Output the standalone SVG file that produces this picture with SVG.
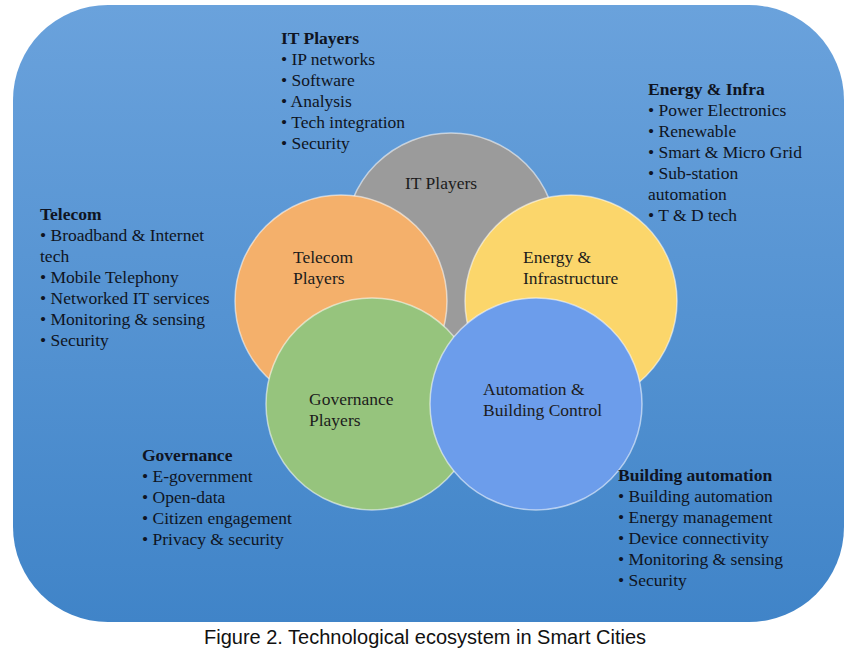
<svg xmlns="http://www.w3.org/2000/svg" width="854" height="669" viewBox="0 0 854 669">
  <defs>
    <linearGradient id="bg" x1="0" y1="0" x2="0" y2="1">
      <stop offset="0" stop-color="#6aa2dc"/>
      <stop offset="1" stop-color="#4084c8"/>
    </linearGradient>
    <style>
      .circ { stroke: #ffffff; stroke-opacity: 0.55; stroke-width: 1.5; }
      .lbl { font-family: "Liberation Serif", "Times New Roman", serif; font-size: 17.5px; fill: #1c1c1c; }
      .lst { font-family: "Liberation Serif", "Times New Roman", serif; font-size: 17.5px; fill: #0f1422; }
      .ttl { font-weight: bold; }
      .cap { font-family: "Liberation Sans", Arial, sans-serif; font-size: 20px; fill: #111111; }
    </style>
  </defs>
  <rect width="854" height="669" fill="#ffffff"/>
  <rect id="background" x="13" y="5" width="831" height="617" rx="95" ry="95" fill="url(#bg)"/>

  <g id="connectors"/>

  <g id="it-players">
    <circle class="circ" cx="451" cy="239" r="106" fill="#9b9b9b"/>
    <text class="lbl" x="405" y="189">IT Players</text>
  </g>
  <g id="telecom-players">
    <circle class="circ" cx="341" cy="301" r="106" fill="#f4b06b"/>
    <text class="lbl" x="293" y="263">Telecom</text>
    <text class="lbl" x="293" y="284">Players</text>
  </g>
  <g id="energy-infrastructure">
    <circle class="circ" cx="571" cy="301" r="106" fill="#fbd66b"/>
    <text class="lbl" x="523" y="263">Energy &amp;</text>
    <text class="lbl" x="523" y="284">Infrastructure</text>
  </g>
  <g id="governance-players">
    <circle class="circ" cx="372" cy="404" r="106" fill="#96c47d"/>
    <text class="lbl" x="309" y="405">Governance</text>
    <text class="lbl" x="309" y="426">Players</text>
  </g>
  <g id="automation-building-control">
    <circle class="circ" cx="536" cy="404" r="106" fill="#6c9deb"/>
    <text class="lbl" x="483" y="395">Automation &amp;</text>
    <text class="lbl" x="483" y="416">Building Control</text>
  </g>

  <g id="it-players-list" class="lst">
    <text class="lst ttl" x="281" y="44">IT Players</text>
    <text class="lst" x="281" y="65">• IP networks</text>
    <text class="lst" x="281" y="86">• Software</text>
    <text class="lst" x="281" y="107">• Analysis</text>
    <text class="lst" x="281" y="128">• Tech integration</text>
    <text class="lst" x="281" y="149">• Security</text>
  </g>
  <g id="energy-list">
    <text class="lst ttl" x="648" y="95">Energy &amp; Infra</text>
    <text class="lst" x="648" y="116">• Power Electronics</text>
    <text class="lst" x="648" y="137">• Renewable</text>
    <text class="lst" x="648" y="158">• Smart &amp; Micro Grid</text>
    <text class="lst" x="648" y="179">• Sub-station</text>
    <text class="lst" x="648" y="200">automation</text>
    <text class="lst" x="648" y="221">• T &amp; D tech</text>
  </g>
  <g id="telecom-list">
    <text class="lst ttl" x="40" y="220">Telecom</text>
    <text class="lst" x="40" y="241">• Broadband &amp; Internet</text>
    <text class="lst" x="40" y="262">tech</text>
    <text class="lst" x="40" y="283">• Mobile Telephony</text>
    <text class="lst" x="40" y="304">• Networked IT services</text>
    <text class="lst" x="40" y="325">• Monitoring &amp; sensing</text>
    <text class="lst" x="40" y="346">• Security</text>
  </g>
  <g id="governance-list">
    <text class="lst ttl" x="142" y="461">Governance</text>
    <text class="lst" x="142" y="482">• E-government</text>
    <text class="lst" x="142" y="503">• Open-data</text>
    <text class="lst" x="142" y="524">• Citizen engagement</text>
    <text class="lst" x="142" y="545">• Privacy &amp; security</text>
  </g>
  <g id="building-automation-list">
    <text class="lst ttl" x="618" y="481">Building automation</text>
    <text class="lst" x="618" y="502">• Building automation</text>
    <text class="lst" x="618" y="523">• Energy management</text>
    <text class="lst" x="618" y="544">• Device connectivity</text>
    <text class="lst" x="618" y="565">• Monitoring &amp; sensing</text>
    <text class="lst" x="618" y="586">• Security</text>
  </g>

  <text id="caption" class="cap" x="425" y="644" text-anchor="middle">Figure 2. Technological ecosystem in Smart Cities</text>
</svg>
